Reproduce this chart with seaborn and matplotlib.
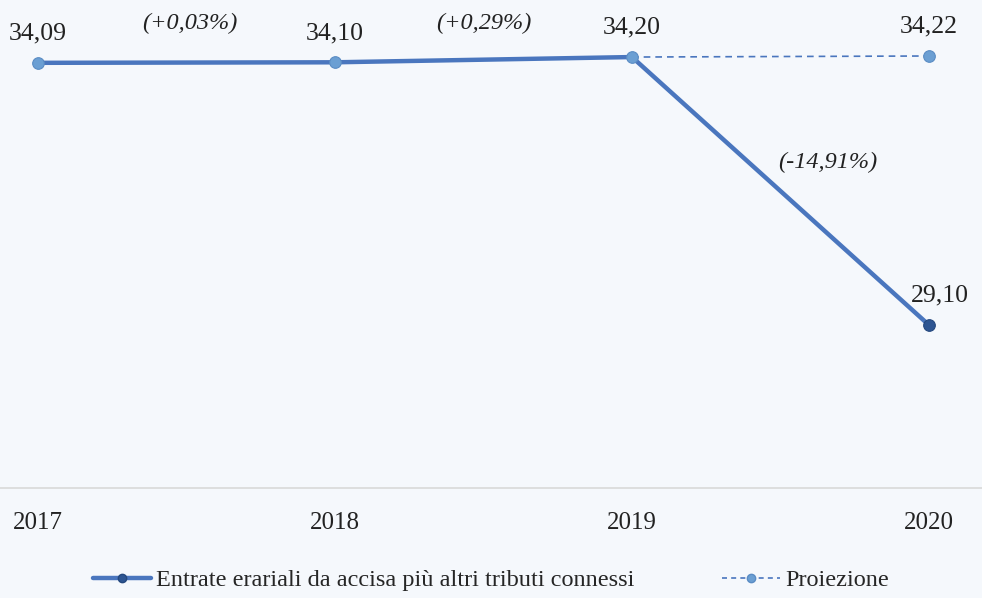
import matplotlib
matplotlib.use("Agg")
import matplotlib.pyplot as plt
from matplotlib.lines import Line2D
import seaborn as sns
import pandas as pd

years = ["2017", "2018", "2019", "2020"]
actual = [34.09, 34.10, 34.20, 29.10]
proj_years = ["2019", "2020"]
projection = [34.20, 34.22]
value_labels = ["34,09", "34,10", "34,20", "29,10"]
proj_label = "34,22"
pct_labels = ["(+0,03%)", "(+0,29%)", "(-14,91%)"]
series_names = ["Entrate erariali da accisa più altri tributi connessi", "Proiezione"]

bg = "#F5F8FC"
line_c = "#4A76BE"
light_m = "#6B9FD3"
dark_m = "#2D5592"

sns.set_theme(style="white")
plt.rcParams["font.family"] = ["Liberation Serif", "DejaVu Serif"]

fig = plt.figure(figsize=(9.82, 5.98), dpi=100, facecolor=bg)
ax = fig.add_axes([0, 1 - 488 / 598, 1, (488 - 15) / 598])
ax.set_facecolor(bg)

xi = list(range(len(years)))
df = pd.DataFrame({"x": xi, "y": actual})
dfp = pd.DataFrame({"x": [years.index(y) for y in proj_years], "y": projection})

sns.lineplot(data=dfp, x="x", y="y", ax=ax, color=line_c, lw=1.2, linestyle=(0, (4, 3)), zorder=2)
sns.lineplot(data=df, x="x", y="y", ax=ax, color=line_c, lw=3.2, zorder=3, solid_capstyle="round")
ax.scatter(xi[:3], actual[:3], s=70, color=light_m, edgecolor="#5A8CC4", lw=0.8, zorder=4)
ax.scatter([xi[3]], [actual[3]], s=70, color=dark_m, edgecolor="#24487E", lw=0.8, zorder=4)
ax.scatter(dfp["x"].iloc[-1:], dfp["y"].iloc[-1:], s=70, color=light_m, edgecolor="#5A8CC4", lw=0.8, zorder=4)

ax.set_xlim(-38 / 297, 3 + 53 / 297)
ax.set_ylim(26, 35)

fs = 18.5
for i, (v, t) in enumerate(zip(actual, value_labels)):
    if i == 3:
        ax.annotate(t, (i, v), xytext=(8, 21), textcoords="offset points", ha="center", va="center", fontsize=fs, color="#222222")
    else:
        ax.annotate(t, (i, v), xytext=(0, 21), textcoords="offset points", ha="center", va="center", fontsize=fs, color="#222222")
ax.annotate(proj_label, (dfp["x"].iloc[-1], dfp["y"].iloc[-1]), xytext=(0, 21), textcoords="offset points", ha="center", va="center", fontsize=fs, color="#222222")

pct_pos = [(0.51, 34.83), (1.5, 34.83), (2.66, 32.2)]
for (px, py), t in zip(pct_pos, pct_labels):
    ax.text(px, py, t, ha="center", va="center", fontsize=17.5, style="italic", color="#222222")

ax.set_xticks(xi)
ax.set_xticklabels(years, fontsize=18, color="#222222")
ax.tick_params(axis="x", length=0, pad=17)
ax.set_yticks([])
ax.set_xlabel("")
ax.set_ylabel("")
for s in ["top", "left", "right"]:
    ax.spines[s].set_visible(False)
ax.spines["bottom"].set_color("#D9D9D9")
ax.spines["bottom"].set_linewidth(1.2)

h1 = Line2D([], [], color=line_c, lw=3.2, marker="o", markersize=6, markerfacecolor=dark_m, markeredgecolor="#24487E")
h2 = Line2D([], [], color=line_c, lw=1.2, linestyle=(0, (3, 2.5)), marker="o", markersize=6, markerfacecolor=light_m, markeredgecolor="#5A8CC4")
fig.legend([h1, h2], series_names, loc="center", bbox_to_anchor=(0.5, 1 - 580 / 598), ncol=2, frameon=False,
           fontsize=17.5, handlelength=2.4, handletextpad=0.2, columnspacing=3.6)

fig.savefig("out.png", dpi=100, facecolor=bg)
